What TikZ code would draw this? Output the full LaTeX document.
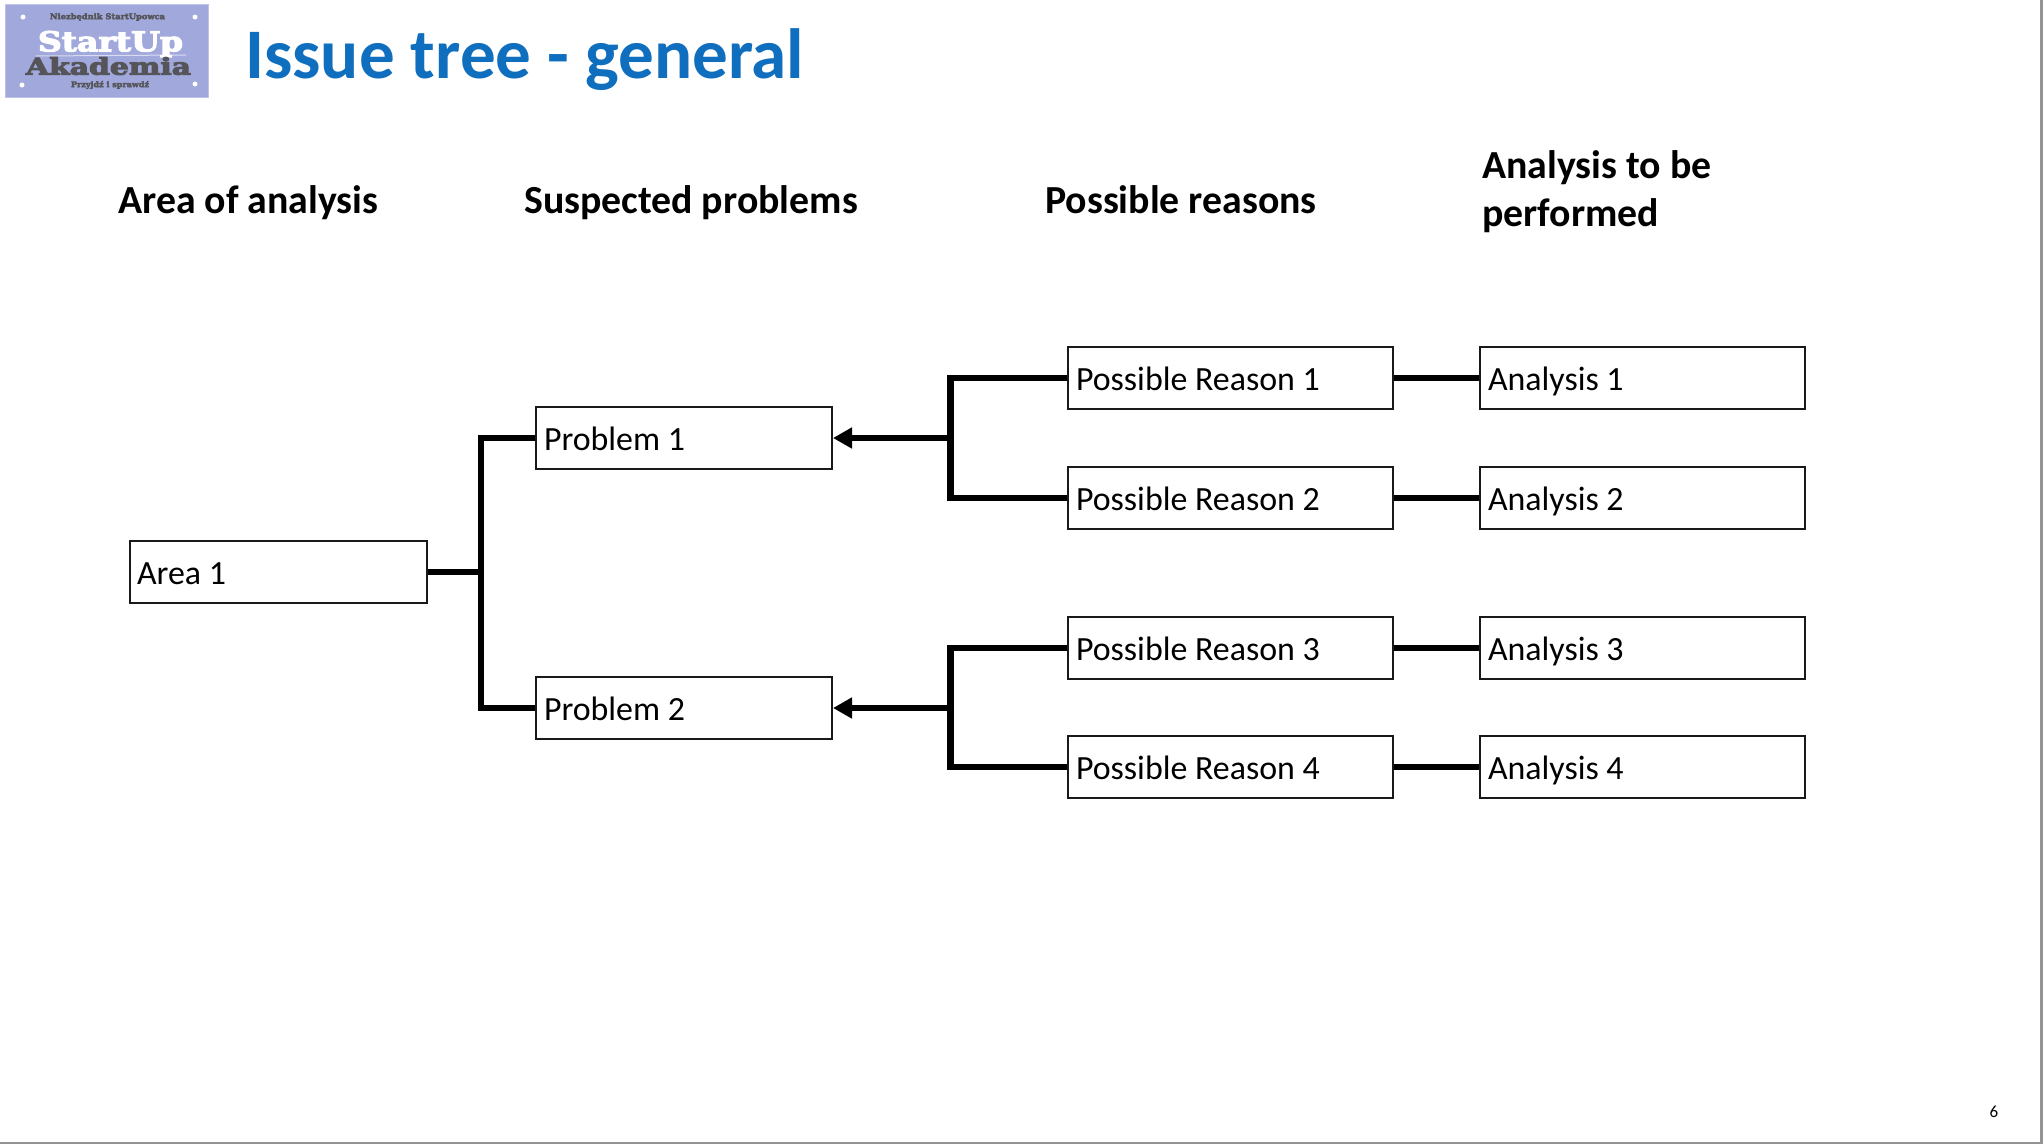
\documentclass[tikz,border=0pt]{standalone}
\usepackage{fontspec}
\usepackage{graphicx}
\setmainfont{Carlito}
\newfontfamily\logofont[BoldFeatures={FakeBold=4}]{DejaVu Serif}
\usetikzlibrary{arrows.meta,calc}
\definecolor{titleblue}{HTML}{0F6FBE}
\definecolor{logobg}{HTML}{A0A8DC}
\definecolor{logodark}{HTML}{555559}
\newcommand{\fs}[1]{\fontsize{#1}{#1}\selectfont}
\tikzset{
  x=1pt,y=-1pt,
  boxed/.style={draw=black!90,line width=2pt,anchor=north west,inner xsep=8pt,inner ysep=0pt,
    text height=43pt,text depth=19pt,align=flush left,font=\fs{33.9},text width=#1},
  conn/.style={line width=6.6pt,black,line join=miter},
  arrowconn/.style={conn,-{Triangle[length=19pt,width=20pt]}},
  header/.style={anchor=base west,inner sep=0pt,font=\bfseries\fs{39.8}},
  logotext/.style={inner sep=0pt,anchor=center},
  logodot/.style={fill=white,draw=none,circle,minimum size=5pt,inner sep=0pt}
}
\begin{document}
\begin{tikzpicture}
\useasboundingbox (0,0) rectangle (2044,1146);
% frame edges
\draw[gray!85,line width=2.5pt] (2041.5,0) -- (2041.5,1143) -- (0,1143);
% logo
\node[fill=logobg,draw=logobg!70!white,line width=1pt,anchor=north west,minimum width=203pt,minimum height=93pt,inner sep=0pt] (logo) at (5,4) {};
\node[logotext] (logoa) at (107.5,17) {\resizebox{115pt}{6pt}{\logofont\bfseries\color{logodark}Niezbędnik StartUpowca}};
\draw[white,line width=1pt,opacity=.6] (36,56) -- (186,55);
\node[logotext] (logob) at (110.5,44) {\resizebox*{145pt}{26pt}{\logofont\bfseries\color{white}StartUp}};
\node[logotext] (logoc) at (108.5,66) {\resizebox*{165pt}{18pt}{\logofont\bfseries\color{logodark}Akademia}};
\node[logotext] (logod) at (110,85) {\resizebox{78pt}{6pt}{\logofont\bfseries\color{logodark}Przyjdź i sprawdź}};
\node[logodot] (d1) at (23,17) {};
\node[logodot] (d2) at (195,17) {};
\node[logodot] (d3) at (22,85) {};
\node[logodot] (d4) at (195,84) {};
% title
\node[anchor=base west,inner sep=0pt,text=titleblue,font=\bfseries\fs{71.1}] (title) at (245,78) {Issue tree - general};
% headers
\node[header] (h1) at (118,213) {Area of analysis};
\node[header] (h2) at (524,213) {Suspected problems};
\node[header] (h3) at (1045,213) {Possible reasons};
\node[header] (h4a) at (1482,178) {Analysis to be};
\node[header] (h4b) at (1482,226) {performed};
% boxes
\node[boxed=282.5pt,inner xsep=7pt] (area) at (129,540) {Area 1};
\node[boxed=280pt] (p1) at (535,406) {Problem 1};
\node[boxed=280pt] (p2) at (535,676) {Problem 2};
\node[boxed=308.5pt] (r1) at (1067,346) {Possible Reason 1};
\node[boxed=308.5pt] (r2) at (1067,466) {Possible Reason 2};
\node[boxed=308.5pt] (r3) at (1067,616) {Possible Reason 3};
\node[boxed=308.5pt] (r4) at (1067,735) {Possible Reason 4};
\node[boxed=308.5pt] (a1) at (1479,346) {Analysis 1};
\node[boxed=308.5pt] (a2) at (1479,466) {Analysis 2};
\node[boxed=308.5pt] (a3) at (1479,616) {Analysis 3};
\node[boxed=308.5pt] (a4) at (1479,735) {Analysis 4};
% junctions
\coordinate (cx0) at (481,0);
\coordinate (cx1) at (950.5,0);
\coordinate (j0) at (cx0 |- area.east);
\coordinate (j1) at (cx1 |- p1.east);
\coordinate (j2) at (cx1 |- p2.east);
% connectors
\draw[conn] (area.east) -- (j0);
\draw[conn] (p1.west) -| (j0) |- (p2.west);
\draw[conn] (r1.west) -| (j1) |- (r2.west);
\draw[conn] (r3.west) -| (j2) |- (r4.west);
\draw[arrowconn] (j1) -- (p1.east);
\draw[arrowconn] (j2) -- (p2.east);
\draw[conn] (r1.east) -- (a1.west);
\draw[conn] (r2.east) -- (a2.west);
\draw[conn] (r3.east) -- (a3.west);
\draw[conn] (r4.east) -- (a4.west);
% page number
\node[inner sep=0pt,font=\fs{17}] (pg) at (1994,1112) {6};
\end{tikzpicture}
\end{document}
